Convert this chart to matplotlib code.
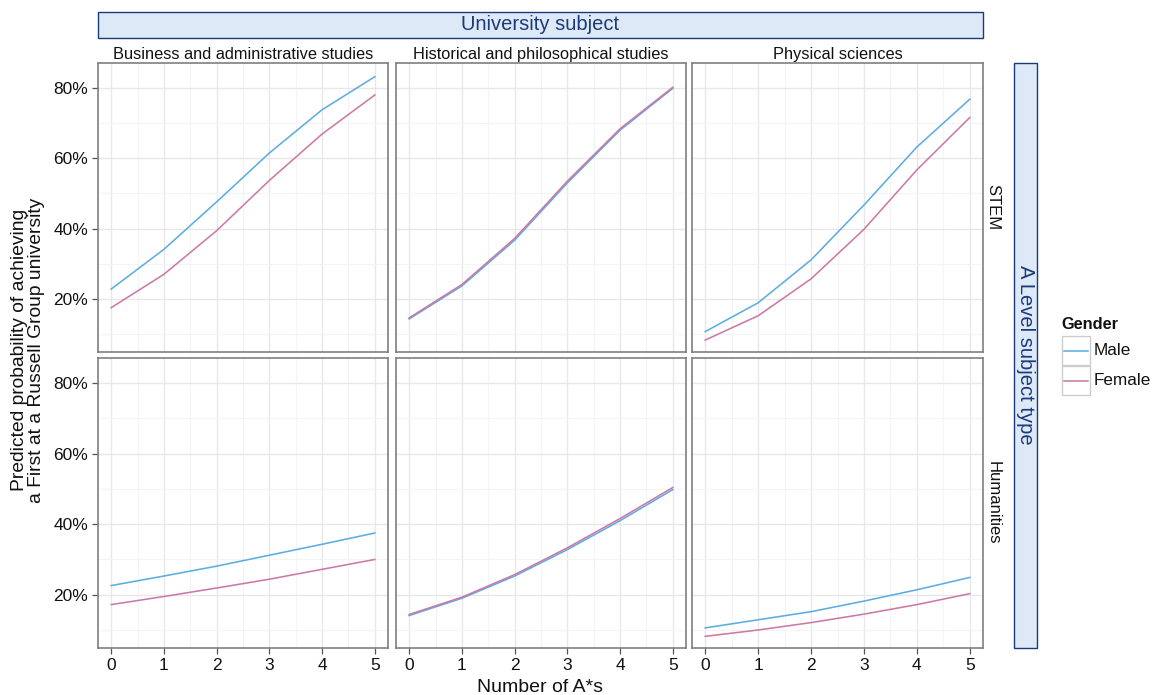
import matplotlib
matplotlib.use("Agg")
import matplotlib.pyplot as plt
from matplotlib.ticker import PercentFormatter, MultipleLocator
from matplotlib.patches import Rectangle
from matplotlib.lines import Line2D

plt.rcParams['font.family'] = ['Liberation Sans', 'DejaVu Sans']

W, H = 1155, 695

x_astars = [0, 1, 2, 3, 4, 5]
uni_subjects = ["Business and administrative studies",
                "Historical and philosophical studies",
                "Physical sciences"]
alevel_types = ["STEM", "Humanities"]
genders = ["Male", "Female"]
gender_colors = {"Male": "#5DADE2", "Female": "#CC79A7"}

# STEM row
bus_stem_male = [0.228, 0.341, 0.476, 0.615, 0.738, 0.832]
bus_stem_female = [0.175, 0.270, 0.394, 0.537, 0.669, 0.780]
his_stem_male = [0.143, 0.237, 0.367, 0.530, 0.680, 0.799]
his_stem_female = [0.146, 0.241, 0.372, 0.535, 0.684, 0.802]
phy_stem_male = [0.107, 0.189, 0.311, 0.467, 0.632, 0.768]
phy_stem_female = [0.083, 0.152, 0.257, 0.398, 0.567, 0.716]
# Humanities row
bus_hum_male = [0.226, 0.253, 0.281, 0.312, 0.343, 0.375]
bus_hum_female = [0.172, 0.195, 0.219, 0.244, 0.272, 0.300]
his_hum_male = [0.141, 0.190, 0.253, 0.328, 0.410, 0.498]
his_hum_female = [0.144, 0.193, 0.257, 0.333, 0.416, 0.504]
phy_hum_male = [0.106, 0.129, 0.152, 0.182, 0.214, 0.249]
phy_hum_female = [0.082, 0.100, 0.121, 0.145, 0.172, 0.203]

data = {
    ("STEM", 0): {"Male": bus_stem_male, "Female": bus_stem_female},
    ("STEM", 1): {"Male": his_stem_male, "Female": his_stem_female},
    ("STEM", 2): {"Male": phy_stem_male, "Female": phy_stem_female},
    ("Humanities", 0): {"Male": bus_hum_male, "Female": bus_hum_female},
    ("Humanities", 1): {"Male": his_hum_male, "Female": his_hum_female},
    ("Humanities", 2): {"Male": phy_hum_male, "Female": phy_hum_female},
}

fig = plt.figure(figsize=(W / 100, H / 100), dpi=100)


def rect(x0, x1, y0, y1):
    return [x0 / W, 1 - y1 / H, (x1 - x0) / W, (y1 - y0) / H]


col_x = [(98, 388), (396, 686), (692, 983)]
row_y = [(63, 352), (358, 648)]

border_col = "#7F7F7F"
for r, atype in enumerate(alevel_types):
    for c, subj in enumerate(uni_subjects):
        ax = fig.add_axes(rect(col_x[c][0], col_x[c][1], row_y[r][0], row_y[r][1]))
        for g in genders:
            ax.plot(x_astars, data[(atype, c)][g], color=gender_colors[g], lw=1.15,
                    solid_joinstyle="round")
        ax.set_xlim(-0.25, 5.25)
        ax.set_ylim(0.049, 0.871)
        ax.xaxis.set_major_locator(MultipleLocator(1))
        ax.xaxis.set_minor_locator(MultipleLocator(0.5))
        ax.yaxis.set_major_locator(MultipleLocator(0.2))
        ax.yaxis.set_minor_locator(MultipleLocator(0.1))
        ax.yaxis.set_major_formatter(PercentFormatter(xmax=1, decimals=0))
        ax.grid(which="major", color="#E8E8E8", lw=1.0)
        ax.grid(which="minor", color="#F4F4F4", lw=0.8)
        ax.set_axisbelow(True)
        for s in ax.spines.values():
            s.set_color(border_col)
            s.set_linewidth(1.2)
        ax.tick_params(which="minor", length=0)
        ax.tick_params(which="major", color="#555555", length=4, width=0.9,
                       labelsize=12.5, labelcolor="#111111", pad=3)
        if c != 0:
            ax.tick_params(axis="y", which="major", left=False, labelleft=False)
        if r != 1:
            ax.tick_params(axis="x", which="major", bottom=False, labelbottom=False)
        if r == 0:
            ax.set_title(subj, fontsize=11.8, pad=3, color="#111111")
        if c == 2:
            ax.text(1.035, 0.5, atype, transform=ax.transAxes, rotation=-90,
                    ha="center", va="center", fontsize=12, color="#111111")

# Outer strips
strip_fill = "#DDE9F7"
strip_edge = "#1B3A7A"
fig.patches.append(Rectangle((98 / W, 1 - 38 / H), (983 - 98) / W, 26 / H,
                             transform=fig.transFigure, facecolor=strip_fill,
                             edgecolor=strip_edge, lw=1.0))
fig.text((98 + 983) / 2 / W, 1 - 25 / H, "University subject", ha="center",
         va="center", fontsize=14.5, color=strip_edge)
fig.patches.append(Rectangle((1014 / W, 1 - 648 / H), 23 / W, (648 - 63) / H,
                             transform=fig.transFigure, facecolor=strip_fill,
                             edgecolor=strip_edge, lw=1.0))
fig.text(1025.5 / W, 1 - 355 / H, "A Level subject type", ha="center",
         va="center", rotation=-90, fontsize=14.5, color=strip_edge)

# Axis labels
fig.text(28 / W, 1 - 350 / H,
         "Predicted probability of achieving\na First at a Russell Group university",
         rotation=90, ha="center", va="center", fontsize=13.9, color="#111111",
         linespacing=0.95)
fig.text(540 / W, 1 - 687 / H, "Number of A*s", ha="center", va="center",
         fontsize=14, color="#111111")

# Legend
fig.text(1061 / W, 1 - 324 / H, "Gender", ha="left", va="center", fontsize=11.8,
         fontweight="bold", color="#111111")
key_y = [336, 366]
for g, ky in zip(genders, key_y):
    fig.patches.append(Rectangle((1062 / W, 1 - (ky + 29) / H), 28 / W, 29 / H,
                                 transform=fig.transFigure, facecolor="white",
                                 edgecolor="#CCCCCC", lw=1.0))
    fig.lines.append(Line2D([1064 / W, 1088 / W], [1 - (ky + 14.5) / H] * 2,
                            transform=fig.transFigure, color=gender_colors[g], lw=1.15))
    fig.text(1094 / W, 1 - (ky + 14.5) / H, g, ha="left", va="center",
             fontsize=12.3, color="#111111")

fig.savefig("out.png", dpi=100, facecolor="white")
